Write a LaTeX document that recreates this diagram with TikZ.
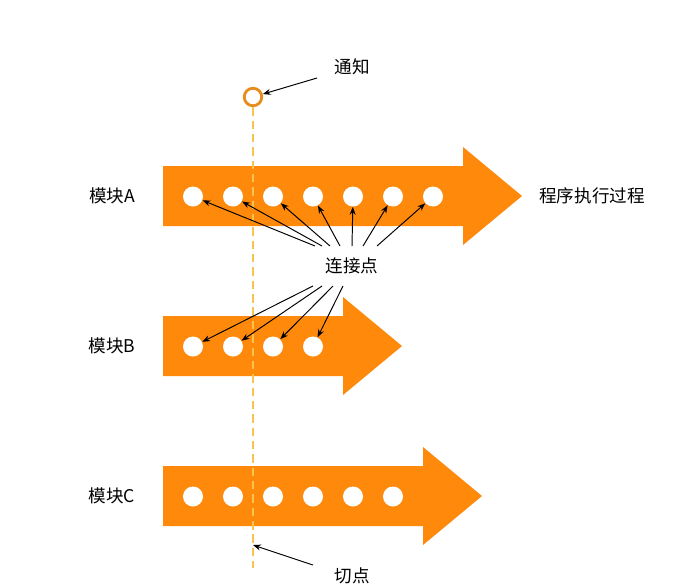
\documentclass[tikz,border=0pt]{standalone}
\usepackage{fontspec}
\newfontfamily\cjk{Noto Sans CJK SC}
\usetikzlibrary{calc,arrows.meta}
\tikzset{>={Stealth[length=4.5pt,width=3.4pt]}}
\definecolor{flowColor}{RGB}{255,137,10}
\definecolor{cutColor}{RGB}{247,196,80}
\definecolor{ringColor}{RGB}{232,140,28}
\tikzset{
	hole/.style={circle,fill=white,inner sep=0pt,minimum size=0.4cm},
	lbl/.style={font=\cjk\fontsize{10}{12}\selectfont,inner sep=1pt},
	pointer/.style={->,line width=0.55pt}
}

\begin{document}
\begin{tikzpicture}[x=0.02cm,y=-0.02cm]
				\useasboundingbox (0,0) rectangle (675,585);
				\foreach \y/\hx in {196/463,346/343,496/423}
					\fill[flowColor] (163,\y-30) -- (\hx,\y-30) -- (\hx,\y-49) -- (\hx+59,\y) -- (\hx,\y+49) -- (\hx,\y+30) -- (163,\y+30) -- cycle;
				\foreach \i in {1,...,7} \node[hole] (a\i) at ({153+40*\i},196.5) {};
				\foreach \i in {1,...,4} \node[hole] (b\i) at ({153+40*\i},346.5) {};
				\foreach \i in {1,...,6} \node[hole] (c\i) at ({153+40*\i},496.5) {};
				\node[circle,draw=ringColor,line width=1.6pt,fill=white,inner sep=0pt,minimum size=0.35cm] (note) at (253,97) {};
				\coordinate (cut) at (253,545);
				\draw[cutColor,line width=1.3pt,dash pattern=on 4.8pt off 2.8pt] (note.south) -- (253,568);
				\node[lbl] (modA) at (112,196) {模块A};
				\node[lbl] (modB) at (112,346) {模块B};
				\node[lbl] (modC) at (112,496) {模块C};
				\node[lbl] (flow) at (592,196) {程序执行过程};
				\node[lbl] (tong) at (352,67) {通知};
				\node[lbl] (lian) at (352,266) {连接点};
				\node[lbl] (qie) at (352,576) {切点};
				\draw[pointer] ($(tong.center)+(-35,11)$) -- (note);
				\draw[pointer] ($(qie.center)+(-39,-11)$) -- (cut);
				\foreach \i/\dx in {1/-37,2/-30,3/-22,4/-12,5/0,6/11,7/25}
					\draw[pointer] ($(lian.center)+(\dx,-20)$) -- (a\i);
				\foreach \i/\dx in {1/-39,2/-30,3/-19,4/-9}
					\draw[pointer] ($(lian.center)+(\dx,20)$) -- (b\i);
\end{tikzpicture}
\end{document}
